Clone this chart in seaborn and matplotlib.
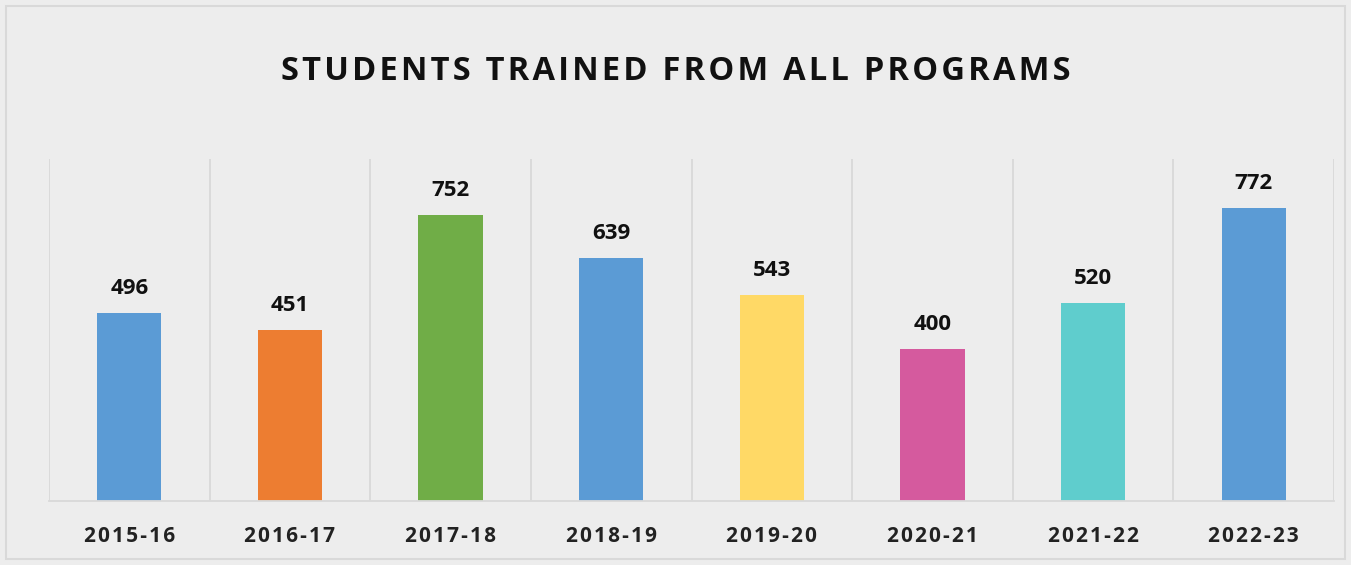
import numpy as np
import pandas as pd
import matplotlib.pyplot as plt
import seaborn as sns
from matplotlib.patches import Rectangle

# ----------------------------
# Data
# ----------------------------
years = ["2015-16", "2016-17", "2017-18", "2018-19",
         "2019-20", "2020-21", "2021-22", "2022-23"]
students = [496, 451, 752, 639, 543, 400, 520, 772]
bar_colors = ["#5B9BD5", "#ED7D31", "#70AD47", "#5B9BD5",
              "#FFD966", "#D55A9E", "#5FCDCD", "#5B9BD5"]

df = pd.DataFrame({"Year": years, "Students": students})

BG = "#EDEDED"
LINE = "#D9D9D9"

sns.set_style("white")
plt.rcParams["font.family"] = ["Open Sans", "DejaVu Sans"]

fig = plt.figure(figsize=(13.51, 5.65), dpi=100, facecolor=BG)
ax = fig.add_axes([0.0363, 0.1133, 0.9511, 0.6053])
ax.set_facecolor(BG)

sns.barplot(data=df, x="Year", y="Students", hue="Year", palette=bar_colors,
            width=0.4, legend=False, saturation=1, linewidth=0, ax=ax)

ax.set_ylim(0, 900)
ax.set_xlim(-0.5, len(years) - 0.5)

# separators between categories
ax.set_xticks(np.arange(-0.5, len(years)), minor=True)
ax.grid(True, which="minor", axis="x", color=LINE, linewidth=1.3)
ax.grid(False, which="major")
ax.tick_params(axis="x", which="both", length=0)
ax.set_yticks([])

for side in ["top", "left", "right"]:
    ax.spines[side].set_visible(False)
ax.spines["bottom"].set_color(LINE)
ax.spines["bottom"].set_linewidth(1.3)

spaced = ["\u200a".join(y) for y in years]
ax.set_xticks(range(len(years)))
ax.set_xticklabels(spaced, fontsize=15, fontweight="bold", color="#222222")
ax.tick_params(axis="x", pad=18)
ax.set_xlabel("")
ax.set_ylabel("")

for container in ax.containers:
    ax.bar_label(container, fontsize=16, fontweight="bold", color="#111111",
                 padding=10)

# title
title = "\u200a".join("STUDENTS TRAINED FROM ALL PROGRAMS")
fig.text(0.5, 0.873, title, ha="center", va="center", fontsize=23.5,
         fontweight="bold", color="#111111")

# outer border
fig.patches.append(Rectangle((0.0045, 0.01), 0.991, 0.98, transform=fig.transFigure,
                             fill=False, edgecolor=LINE, linewidth=1.5))

fig.savefig("out.png", dpi=100, facecolor=BG)
